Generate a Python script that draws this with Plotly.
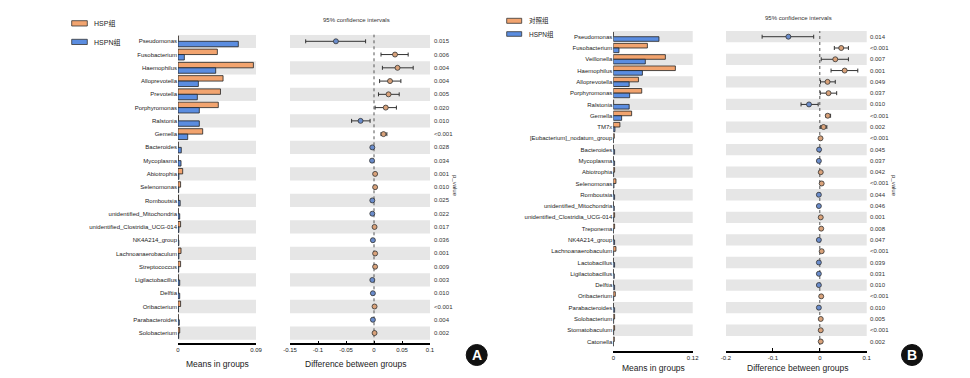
import plotly.graph_objects as go

W, H = 970, 378

# ---------------- Panel A data ----------------
cats_a = ["Pseudomonas", "Fusobacterium", "Haemophilus", "Alloprevotella", "Prevotella",
          "Porphyromonas", "Ralstonia", "Gemella", "Bacteroides", "Mycoplasma", "Abiotrophia",
          "Selenomonas", "Romboutsia", "unidentified_Mitochondria", "unidentified_Clostridia_UCG-014",
          "NK4A214_group", "Lachnoanaerobaculum", "Streptococcus", "Ligilactobacillus", "Delftia",
          "Oribacterium", "Parabacteroides", "Solobacterium"]
mean_hsp_a = [0.0003, 0.0454, 0.087, 0.052, 0.049, 0.0465, 0.0005, 0.0285, 0.0003, 0.0003, 0.0054,
              0.003, 0.0005, 0.0003, 0.003, 0.0003, 0.0035, 0.003, 0.0003, 0.0003, 0.003, 0.0003, 0.002]
mean_hspn_a = [0.0696, 0.0073, 0.0435, 0.0235, 0.0223, 0.0246, 0.0246, 0.0112, 0.0038, 0.0035, 0.001,
               0.0008, 0.0025, 0.002, 0.001, 0.001, 0.001, 0.0008, 0.002, 0.002, 0.0005, 0.0015, 0.0008]
diff_a = [-0.068, 0.0375, 0.042, 0.0286, 0.026, 0.021, -0.024, 0.017, -0.003, -0.0035, 0.002,
          0.002, -0.003, -0.003, 0.001, -0.002, 0.002, 0.002, -0.003, -0.002, 0.001, -0.002, 0.001]
low_a = [-0.122, 0.0125, 0.015, 0.010, 0.008, 0.002, -0.040, 0.0125, -0.0045, -0.005, 0.0005,
         0.0005, -0.0045, -0.0045, -0.0005, -0.0035, 0.0005, 0.0005, -0.0045, -0.0035, -0.0005, -0.0035, -0.0005]
high_a = [-0.015, 0.061, 0.070, 0.048, 0.045, 0.040, -0.007, 0.023, -0.0015, -0.002, 0.0035,
          0.0035, -0.0015, -0.0015, 0.0025, -0.0005, 0.0035, 0.0035, -0.0015, -0.0005, 0.0025, -0.0005, 0.0025]
p_a = ["0.015", "0.006", "0.004", "0.004", "0.005", "0.020", "0.010", "<0.001", "0.028", "0.034",
       "0.001", "0.010", "0.025", "0.022", "0.017", "0.036", "0.001", "0.009", "0.003", "0.010",
       "<0.001", "0.004", "0.002"]
legend_a = ["HSP组", "HSPN组"]

# ---------------- Panel B data ----------------
cats_b = ["Pseudomonas", "Fusobacterium", "Veillonella", "Haemophilus", "Alloprevotella",
          "Porphyromonas", "Ralstonia", "Gemella", "TM7x", "[Eubacterium]_nodatum_group",
          "Bacteroides", "Mycoplasma", "Abiotrophia", "Selenomonas", "Romboutsia",
          "unidentified_Mitochondria", "unidentified_Clostridia_UCG-014", "Treponema",
          "NK4A214_group", "Lachnoanaerobaculum", "Lactobacillus", "Ligilactobacillus", "Delftia",
          "Oribacterium", "Parabacteroides", "Solobacterium", "Stomatobaculum", "Catonella"]
mean_ctrl_b = [0.0003, 0.0515, 0.0787, 0.0938, 0.038, 0.043, 0.0005, 0.0277, 0.010, 0.0015,
               0.0003, 0.0003, 0.002, 0.004, 0.0003, 0.0003, 0.002, 0.002, 0.0003, 0.004,
               0.0003, 0.0003, 0.0003, 0.003, 0.0003, 0.002, 0.002, 0.0015]
mean_hspn_b = [0.069, 0.0086, 0.0484, 0.044, 0.024, 0.0247, 0.024, 0.0126, 0.0025, 0.0003,
               0.002, 0.002, 0.0005, 0.001, 0.002, 0.0015, 0.0005, 0.0003, 0.002, 0.0005,
               0.002, 0.0015, 0.002, 0.0005, 0.002, 0.0005, 0.0005, 0.0003]
diff_b = [-0.067, 0.0457, 0.033, 0.053, 0.0165, 0.0186, -0.023, 0.017, 0.008, 0.0015,
          -0.0015, -0.002, 0.002, 0.004, -0.002, -0.002, 0.002, 0.003, -0.002, 0.004,
          -0.002, -0.002, -0.002, 0.003, -0.002, 0.002, 0.002, 0.002]
low_b = [-0.123, 0.031, 0.003, 0.024, 0.0015, 0.001, -0.040, 0.013, 0.002, 0.0005,
         -0.003, -0.0035, 0.0005, 0.002, -0.0035, -0.0035, 0.0005, 0.001, -0.004, 0.002,
         -0.0035, -0.0035, -0.0035, 0.0015, -0.0035, 0.0005, 0.0005, 0.0005]
high_b = [-0.013, 0.061, 0.061, 0.081, 0.033, 0.036, -0.0035, 0.023, 0.015, 0.0025,
          0.0, -0.0005, 0.0035, 0.006, -0.0005, -0.0005, 0.0035, 0.005, 0.0, 0.006,
          -0.0005, -0.0005, -0.0005, 0.0045, -0.0005, 0.0035, 0.0035, 0.0035]
p_b = ["0.014", "<0.001", "0.007", "0.001", "0.049", "0.037", "0.010", "<0.001", "0.002", "<0.001",
       "0.045", "0.037", "0.042", "<0.001", "0.044", "0.046", "0.001", "0.008", "0.047", "<0.001",
       "0.039", "0.031", "0.010", "<0.001", "0.010", "0.005", "<0.001", "0.002"]
legend_b = ["对照组", "HSPN组"]

ORANGE = "#F2A46F"
BLUE = "#5B8DE0"
M_ORANGE = "#D9A27A"
M_BLUE = "#6A8CCB"
BAND = "#E6E6E6"
FONT = "Arial, Liberation Sans, Noto Sans CJK SC, sans-serif"


def px(x):
    return x / W


def py(y):
    return (H - y) / H


fig = go.Figure()


def add_panel(cats, m1, m2, diff, low, high, xb, xc, ya, names):
    idx = list(range(len(cats)))
    fig.add_trace(go.Bar(y=idx, x=m1, orientation="h", name=names[0],
                         marker=dict(color=ORANGE, line=dict(color="#222", width=0.8)),
                         xaxis=xb, yaxis=ya, showlegend=False))
    fig.add_trace(go.Bar(y=idx, x=m2, orientation="h", name=names[1],
                         marker=dict(color=BLUE, line=dict(color="#222", width=0.8)),
                         xaxis=xb, yaxis=ya, showlegend=False))
    cols = [M_ORANGE if d > 0 else M_BLUE for d in diff]
    fig.add_trace(go.Scatter(
        x=diff, y=idx, mode="markers", xaxis=xc, yaxis=ya, showlegend=False,
        marker=dict(color=cols, size=5, line=dict(color="#333", width=0.8)),
        error_x=dict(type="data", symmetric=False,
                     array=[h - d for h, d in zip(high, diff)],
                     arrayminus=[d - l for d, l in zip(diff, low)],
                     color="#333", thickness=1, width=2)))


add_panel(cats_a, mean_hsp_a, mean_hspn_a, diff_a, low_a, high_a, "x", "x2", "y", legend_a)
add_panel(cats_b, mean_ctrl_b, mean_hspn_b, diff_b, low_b, high_b, "x3", "x4", "y2", legend_b)

axis_common = dict(showgrid=False, zeroline=False, showline=True, linecolor="#000", linewidth=1.5,
                   ticks="inside", ticklen=3, tickcolor="#000", tickfont=dict(size=6, color="#222"),
                   fixedrange=True, automargin=False)

rowA0, rowA_step = 41.3, 13.26
yA_top, yA_bot = rowA0 - rowA_step / 2, 343.3
nA = len(cats_a)
yA_range = [-0.5 + (yA_bot - yA_top) / rowA_step, -0.5]

rowB0, rowB_step = 36.7, 11.29
yB_top, yB_bot = rowB0 - rowB_step / 2, 351
nB = len(cats_b)
yB_range = [-0.5 + (yB_bot - yB_top) / rowB_step, -0.5]

yaxis_common = dict(ticks="", showgrid=False, zeroline=False, showline=False,
                    tickfont=dict(size=6, color="#222"), fixedrange=True, automargin=False)

fig.update_layout(
    width=W, height=H, margin=dict(l=0, r=0, t=0, b=0, autoexpand=False),
    paper_bgcolor="white", plot_bgcolor="rgba(0,0,0,0)",
    font=dict(family=FONT, color="#222"),
    barmode="group", bargap=0.18, bargroupgap=0,
    xaxis=dict(domain=[px(178), px(256)], range=[0, 0.09], anchor="y",
               tickvals=[0, 0.09], ticktext=["0", "0.09"], **axis_common),
    xaxis2=dict(domain=[px(290), px(430)], range=[-0.15, 0.1], anchor="y",
                tickvals=[-0.15, -0.1, -0.05, 0, 0.05, 0.1],
                ticktext=["-0.15", "-0.1", "-0.05", "0", "0.05", "0.1"], **axis_common),
    yaxis=dict(domain=[py(yA_bot), py(yA_top)], range=yA_range, anchor="x",
               tickvals=list(range(nA)), ticktext=cats_a, **yaxis_common),
    xaxis3=dict(domain=[px(613.3), px(692.7)], range=[0, 0.12], anchor="y2",
                tickvals=[0, 0.12], ticktext=["0", "0.12"], **axis_common),
    xaxis4=dict(domain=[px(726), px(866.7)], range=[-0.2, 0.1], anchor="y2",
                tickvals=[-0.2, -0.1, 0, 0.1], ticktext=["-0.2", "-0.1", "0", "0.1"], **axis_common),
    yaxis2=dict(domain=[py(yB_bot), py(yB_top)], range=yB_range, anchor="x3",
                tickvals=list(range(nB)), ticktext=cats_b, **yaxis_common),
)

shapes = []
annotations = []


def note(text, x, y, size, color="#222", xanchor="center", yref="paper", **kw):
    annotations.append(dict(text=text, xref="paper", yref=yref, x=x, y=y, xanchor=xanchor,
                            yanchor="middle", showarrow=False, font=dict(size=size, color=color), **kw))


for xr, yr, n in [("x domain", "y", nA), ("x2 domain", "y", nA), ("x3 domain", "y2", nB), ("x4 domain", "y2", nB)]:
    for i in range(0, n, 2):
        shapes.append(dict(type="rect", xref=xr, yref=yr, x0=0, x1=1, y0=i - 0.5, y1=i + 0.5,
                           fillcolor=BAND, line=dict(width=0), layer="below"))

for xr, yr in [("x2", "y domain"), ("x4", "y2 domain")]:
    shapes.append(dict(type="line", xref=xr, yref=yr, x0=0, x1=0, y0=0, y1=1,
                       line=dict(color="#555", width=1, dash="dot"), layer="below"))

for i, p in enumerate(p_a):
    note(p, px(432), i, 6, "#333", xanchor="left", yref="y")
for i, p in enumerate(p_b):
    note(p, px(868), i, 6, "#333", xanchor="left", yref="y2")

note("p_value", px(455), py(186), 6, "#333", textangle=90)
note("p_value", px(894), py(186), 6, "#333", textangle=90)

note("95% confidence intervals", px(356), py(20), 6, "#333")
note("95% confidence intervals", px(798), py(18), 6, "#333")

for txt, x, y in [("Means in groups", 217, 363.5), ("Difference between groups", 355, 363.5),
                  ("Means in groups", 653.5, 368), ("Difference between groups", 797, 368)]:
    note(txt, px(x), py(y), 8.5)

for (x0, x1, y0, y1, col, txt, tx, fs) in [
    (71.7, 87.3, 20.7, 26, ORANGE, legend_a[0], 91.7, 7),
    (71.7, 87.3, 39.3, 44.5, BLUE, legend_a[1], 91.7, 7),
    (506.7, 521.7, 18.3, 23.3, ORANGE, legend_b[0], 526.7, 6.5),
    (506.7, 521.7, 31.7, 36.3, BLUE, legend_b[1], 526.7, 6.5),
]:
    shapes.append(dict(type="rect", xref="paper", yref="paper", x0=px(x0), x1=px(x1), y0=py(y1), y1=py(y0),
                       fillcolor=col, line=dict(color="#333", width=0.8)))
    note(txt, px(tx), py((y0 + y1) / 2), fs, xanchor="left")

for cx, cy, letter in [(476.7, 355, "A"), (912, 355, "B")]:
    r = 10.5
    shapes.append(dict(type="circle", xref="paper", yref="paper", x0=px(cx - r), x1=px(cx + r),
                       y0=py(cy + r), y1=py(cy - r), fillcolor="#111", line=dict(color="#111", width=1)))
    note("<b>%s</b>" % letter, px(cx), py(cy), 14, "white")

fig.update_layout(shapes=shapes, annotations=annotations)

fig.write_html("out.html", config={"displayModeBar": False},
               post_script="document.body.style.margin='0';document.body.style.padding='0';")
